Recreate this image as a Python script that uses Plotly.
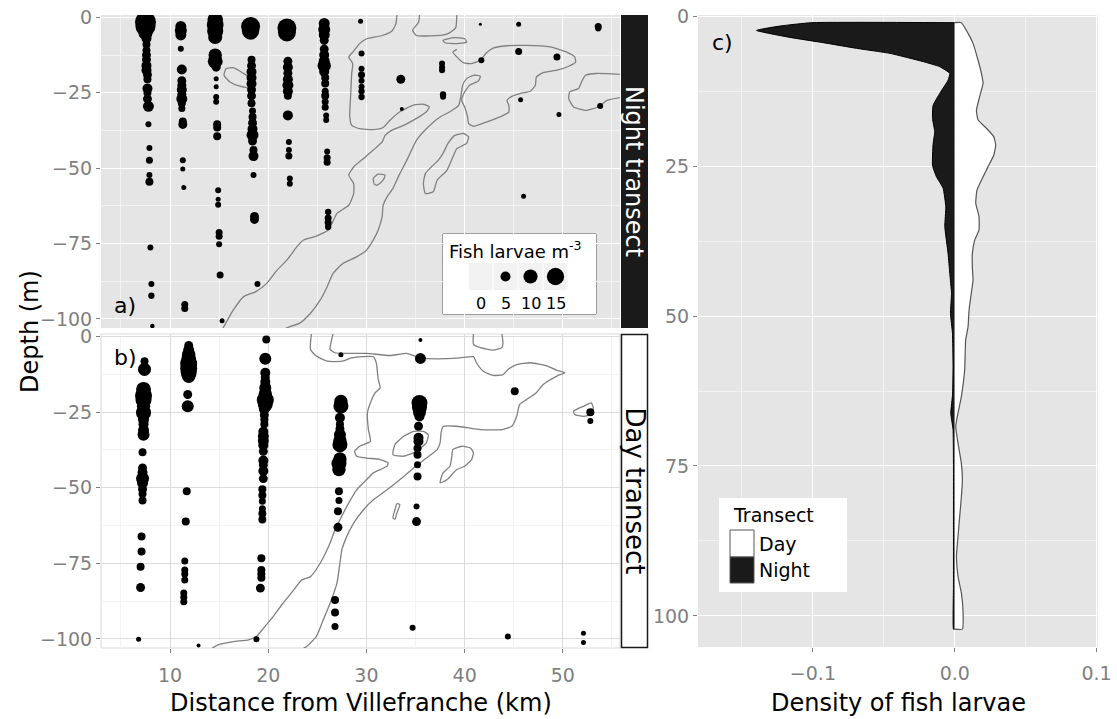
import plotly.graph_objects as go

FONT = "DejaVu Sans"
W, H = 1117, 719

# ---------------------------------------------------------------- data
# Night transect (panel a): distance (km), depth (m), fish larvae m^-3
night_km = [
    7.5, 7.5, 7.5, 7.6, 7.6, 7.6, 7.6, 7.6, 7.6, 7.6, 7.7, 7.7, 7.7, 7.7, 7.7, 7.8, 7.8, 7.9, 7.9, 7.9, 7.9, 8.0, 8.1, 8.1, 8.2,
    11.1, 11.1, 11.1, 11.1, 11.2, 11.2, 11.2, 11.2, 11.2, 11.2, 11.2, 11.2, 11.3, 11.3, 11.3, 11.3, 11.4, 11.5, 11.5,
    14.6, 14.6, 14.6, 14.6, 14.6, 14.6, 14.7, 14.7, 14.7, 14.7, 14.7, 14.8, 14.8, 14.8, 14.9, 14.9, 14.9, 15.0, 15.0, 15.0, 15.1, 15.3,
    18.2, 18.2, 18.3, 18.3, 18.3, 18.3, 18.3, 18.3, 18.3, 18.3, 18.4, 18.4, 18.4, 18.4, 18.4, 18.4, 18.5, 18.5, 18.5, 18.6, 18.6, 18.9,
    21.9, 21.9, 22.0, 22.0, 22.0, 22.0, 22.0, 22.0, 22.0, 22.0, 22.1, 22.1, 22.1, 22.2, 22.2,
    25.7, 25.7, 25.7, 25.7, 25.7, 25.7, 25.7, 25.7, 25.7, 25.8, 25.8, 25.8, 25.8, 25.8, 25.8, 25.9, 25.9, 26.0, 26.0, 26.0, 26.1, 26.1, 26.1, 26.1,
    29.4, 29.5, 29.5, 29.5, 29.5, 29.5, 29.5, 29.5,
    33.5, 33.6, 37.7, 37.7, 37.7, 37.8, 37.8, 41.6, 41.7, 45.5, 45.5, 45.7, 46.0, 49.4, 49.6, 53.6, 53.6, 53.8,
]
night_depth = [
    -1.5, -3.0, -5.2, -7.0, -9.0, -11.0, -12.5, -14.0, -16.0, -17.5, -19.0, -20.5, -23.6, -25.0, -27.0, -29.5, -35.4, -43.3, -47.4, -52.3, -54.5, -76.3, -88.4, -92.3, -102.3,
    -3.0, -4.3, -5.8, -10.4, -17.3, -21.0, -22.5, -24.0, -25.5, -27.0, -28.5, -30.2, -34.5, -35.5, -47.4, -50.3, -56.4, -95.2, -96.5,
    -0.8, -2.5, -4.5, -6.5, -12.5, -14.5, -16.5, -20.3, -23.0, -26.4, -28.0, -35.4, -36.5, -39.4, -57.3, -60.3, -62.1, -71.3, -72.6, -75.2, -85.4, -100.6,
    -3.0, -4.5, -14.0, -16.0, -18.0, -20.0, -22.0, -24.0, -26.0, -28.5, -31.0, -33.0, -35.0, -37.0, -39.0, -41.0, -44.0, -46.0, -52.3, -66.0, -67.0, -88.4,
    -3.5, -5.0, -14.5, -16.5, -18.5, -20.5, -22.5, -24.5, -26.0, -32.5, -41.3, -44.0, -46.0, -53.4, -55.2,
    -2.0, -4.0, -5.8, -7.6, -10.5, -12.5, -14.5, -16.0, -18.0, -20.0, -21.9, -24.5, -26.0, -28.0, -29.8, -32.5, -34.0, -44.5, -46.5, -48.0, -64.5, -66.5, -68.0, -69.5,
    -1.3, -12.0, -17.0, -19.0, -21.0, -23.0, -24.5, -26.4,
    -20.5, -30.4, -15.3, -16.5, -17.5, -25.5, -26.3, -2.3, -14.2, -2.3, -11.3, -27.3, -59.3, -13.1, -32.2, -3.0, -3.6, -29.4,
]
night_larvae = [
    22, 20, 9.8, 5, 3.2, 3.2, 4, 4, 5, 5, 4, 3.2, 5, 3.2, 4, 6, 1.8, 1.8, 2.45, 1.8, 3.2, 1.8, 1.8, 2, 1.0,
    6, 7.2, 6, 1.8, 5, 4, 4, 5, 4, 6, 3.2, 2.45, 3.2, 4, 1.8, 1.25, 1.25, 2.45, 2.45,
    12, 14, 13, 10, 9, 11, 4, 1.25, 1.25, 1.8, 1.8, 3.2, 3.2, 3.2, 1.8, 1.25, 1.8, 2.45, 2.45, 1.8, 2.45, 1.25,
    18, 15, 3.2, 4, 5, 5, 5, 4, 4, 3.2, 2.45, 3.2, 4, 5, 7.2, 4, 3.2, 5, 1.8, 4, 4, 1.8,
    18, 16, 4, 5, 4, 5, 6, 5, 3.2, 5, 1.8, 1.8, 2.45, 1.8, 1.8,
    6, 7.2, 6, 4, 4, 5, 6, 9, 5, 3.2, 3.2, 2.45, 3.2, 2.45, 2.45, 1.8, 1.8, 1.8, 2.45, 2.45, 2, 2.45, 2.45, 2,
    1.25, 1.8, 1.8, 2.45, 1.8, 1.8, 2, 2,
    4, 0.8, 1.8, 1.8, 1.8, 2, 1.8, 0.45, 1.8, 1.25, 2.45, 1.25, 1.25, 2.45, 1.25, 2.45, 2, 1.8,
]

# Day transect (panel b)
day_km = [
    7.4, 7.4, 7.3, 7.3, 7.3, 7.3, 7.3, 7.3, 7.3, 7.3, 7.3, 7.2, 7.2, 7.2, 7.2, 7.2, 7.2, 7.2, 7.2, 7.1, 7.1, 7.0, 7.0, 6.8,
    11.9, 11.9, 11.9, 11.9, 11.9, 11.9, 11.9, 11.9, 11.8, 11.8, 11.7, 11.6, 11.5, 11.5, 11.5, 11.5, 11.4, 11.4, 11.4, 12.9,
    19.8, 19.7, 19.7, 19.7, 19.7, 19.7, 19.7, 19.7, 19.7, 19.6, 19.6, 19.6, 19.6, 19.5, 19.5, 19.5, 19.5, 19.5, 19.5, 19.5,
    19.5, 19.5, 19.4, 19.4, 19.4, 19.4, 19.4, 19.4, 19.3, 19.3, 19.3, 19.3, 19.2, 18.8,
    27.4, 27.4, 27.4, 27.3, 27.3, 27.3, 27.3, 27.3, 27.3, 27.3, 27.2, 27.2, 27.2, 27.2, 27.1, 27.1, 26.8, 26.8, 26.8,
    35.5, 35.5, 35.4, 35.4, 35.4, 35.4, 35.3, 35.3, 35.3, 35.2, 35.2, 35.2, 35.2, 35.1, 35.1, 34.7,
    45.1, 52.8, 52.8, 44.4, 52.1, 52.1,
]
day_depth = [
    -8.2, -10.9, -17.5, -19.5, -21.0, -23.0, -25.2, -27.5, -29.0, -31.0, -32.5, -38.3, -43.5, -45.0, -47.0, -48.5, -50.5, -52.0, -54.2, -66.1, -71.1, -76.1, -83.0, -100.1,
    -3.0, -4.5, -6.0, -7.5, -9.0, -10.5, -12.0, -13.2, -19.2, -23.1, -51.2, -61.2, -74.2, -77.2, -78.5, -80.5, -84.8, -86.2, -87.7, -102.2,
    -1.0, -7.4, -12.0, -13.5, -15.0, -17.0, -19.0, -21.0, -22.5, -24.0, -26.0, -27.5, -29.0, -31.5, -33.0, -34.5, -36.0, -38.0, -41.0, -42.5,
    -44.5, -47.0, -50.5, -52.5, -54.5, -57.0, -58.5, -60.5, -73.3, -77.2, -78.5, -79.8, -83.2, -100.1,
    -6.1, -21.5, -23.0, -26.9, -29.0, -30.5, -32.5, -34.5, -35.8, -40.5, -42.0, -44.0, -51.2, -54.2, -57.8, -63.1, -87.1, -91.3, -95.9,
    -1.2, -7.3, -22.0, -23.5, -25.0, -26.5, -29.7, -33.5, -34.7, -37.0, -39.1, -42.4, -46.3, -56.2, -61.2, -96.3,
    -18.1, -25.1, -28.0, -99.2, -98.1, -101.2,
]
day_larvae = [
    3.2, 8.5, 11, 14.5, 12.8, 9, 11.3, 6, 5, 6, 7.2, 3.2, 4, 5, 8.5, 6, 4, 3.2, 3.2, 3.2, 3.2, 3.2, 4, 1.25,
    4, 6, 9, 11, 14.5, 14.5, 12.8, 9, 4, 7.2, 3.2, 3.2, 2.45, 2.45, 2.45, 2.45, 2.45, 2.45, 2.45, 0.8,
    3.2, 7.2, 5, 4, 5, 7.2, 9, 14.5, 11, 6, 4, 3.2, 3.2, 5, 6, 6, 5, 4, 5, 4,
    5, 4, 3.2, 3.2, 2.45, 2.45, 3.2, 3.2, 3.2, 3.2, 3.2, 3.2, 4, 1.8,
    1.25, 9, 11.3, 5, 3.2, 4, 7.2, 9, 11.3, 9, 11.3, 9, 3.2, 2.45, 3.2, 4, 3.2, 3.2, 2.45,
    0.8, 6, 12.8, 11.3, 8.5, 5, 4, 5, 5, 3.2, 3.2, 2.45, 3.2, 1.8, 4, 1.8,
    3.2, 3.2, 1.8, 1.8, 1.25, 1.25,
]

legend_larvae = [0, 5, 10, 15]

# Contour lines (km, depth) of the background field
night_contours = [
    [(17.5, -18.6), (16.5, -16.7), (15.7, -17.0), (15.5, -19.2), (16.1, -21.4), (17.1, -22.8), (18.2, -23.3), (18.5, -20.9), (17.5, -18.6)],
    [(15.4, -103), (16.45, -97.0), (17.5, -92.6), (18.7, -91.0), (19.85, -88.2), (20.9, -83.8), (21.9, -80.5), (22.9, -76.1),
     (23.6, -73.8), (24.9, -72.5), (26.1, -70.5), (26.5, -68.3), (27.0, -65.0), (28.2, -62.3), (28.7, -58.4), (28.7, -55.1),
     (28.2, -52.3), (28.7, -49.6), (29.7, -46.8), (30.7, -44.0), (31.6, -41.3), (31.9, -39.1), (32.6, -37.4), (33.8, -35.8),
     (35.1, -33.5), (36.1, -31.3), (36.4, -29.7), (35.8, -28.8), (34.8, -29.1), (33.4, -31.3), (32.4, -34.1), (31.7, -36.5),
     (30.7, -37.2), (29.3, -36.9), (28.5, -35.8), (28.3, -33.0), (28.4, -25.3), (28.5, -18.6), (28.6, -15.3), (28.2, -13.1),
     (28.7, -11.2), (29.3, -8.7), (30.0, -7.1), (31.6, -6.0), (32.6, -4.5), (33.0, -2.1), (33.1, 0.8)],
    [(21.8, -103), (23.2, -101.4), (24.3, -98.1), (25.3, -93.7), (26.0, -89.3), (26.6, -84.9), (27.6, -81.6), (29.0, -79.4),
     (30.0, -77.2), (30.7, -73.8), (31.2, -70.5), (31.6, -66.1), (31.7, -62.3), (32.1, -59.5), (32.7, -56.7), (33.4, -51.8),
     (34.1, -47.4), (34.6, -44.0), (35.1, -40.7), (36.1, -36.9), (37.5, -33.0), (38.5, -31.3), (39.4, -29.1), (39.6, -26.4),
     (39.8, -22.5), (40.2, -20.3), (40.9, -19.2), (41.6, -19.5), (41.4, -21.1), (40.5, -22.5), (39.9, -25.3), (39.7, -27.5),
     (40.0, -29.7), (40.3, -33.0), (40.4, -35.2), (40.9, -36.1), (42.2, -34.7), (43.6, -33.0), (44.5, -31.4), (44.5, -29.1),
     (44.3, -27.5), (44.8, -26.2), (45.8, -25.1), (46.7, -24.5), (47.2, -22.5), (47.3, -19.8), (48.0, -18.3), (49.4, -17.5),
     (50.6, -16.2), (51.3, -14.8), (51.2, -13.1), (50.4, -11.5), (48.7, -9.8), (46.3, -9.3), (44.3, -9.4), (42.9, -10.2),
     (42.2, -11.8), (41.6, -14.2), (40.7, -15.3), (39.9, -15.1), (39.2, -13.1), (38.8, -11.5), (39.2, -10.6)],
    [(35.8, -55.1), (36.0, -58.4), (36.8, -57.8), (37.2, -54.0), (38.2, -50.7), (38.8, -46.3), (39.2, -43.5), (40.2, -41.8),
     (40.4, -39.6), (39.9, -38.5), (39.0, -39.1), (38.3, -41.8), (37.8, -45.1), (37.3, -47.4), (36.6, -49.6), (36.0, -51.8), (35.8, -55.1)],
    [(30.7, -53.3), (31.2, -52.0), (31.9, -52.3), (31.7, -54.0), (31.1, -55.6), (30.8, -55.3), (30.7, -53.3)],
    [(35.4, 0.8), (35.3, -1.7), (34.7, -4.3), (35.1, -6.0), (36.5, -6.1), (38.1, -5.6), (38.7, -4.6), (39.1, -3.3), (39.2, 0.8)],
    [(37.8, -7.6), (38.9, -6.7), (40.0, -7.1), (40.2, -8.2), (39.2, -8.7), (38.0, -8.4), (37.8, -7.6)],
    [(55.8, -18.9), (53.4, -18.6), (52.3, -19.2), (51.9, -21.4), (51.6, -23.6), (50.7, -24.7), (50.6, -26.9), (51.1, -29.7),
     (52.4, -30.8), (53.6, -29.7), (54.5, -27.5), (55.8, -26.6)],
]
day_contours = [
    [(24.4, 0.8), (24.3, -4.3), (24.9, -6.5), (26.0, -8.2), (27.5, -8.2), (28.5, -7.1), (30.7, -6.7), (31.0, -8.7),
     (31.2, -14.2), (31.4, -17.0), (30.9, -18.6), (30.4, -22.0), (30.1, -25.3), (30.2, -30.8), (30.4, -34.7), (29.3, -36.3),
     (28.8, -38.0), (29.0, -39.6), (30.0, -40.2), (31.4, -40.7), (32.2, -41.8), (32.1, -42.9), (30.7, -45.1), (30.0, -47.4),
     (29.0, -50.7), (28.0, -56.2), (27.3, -60.6), (26.8, -63.9), (26.3, -68.3), (25.3, -74.9), (24.3, -79.4), (23.4, -80.5),
     (22.6, -83.8), (21.5, -88.2), (20.5, -92.6), (19.5, -96.5), (18.8, -99.2), (18.0, -100.3), (16.4, -100.9), (14.9, -102.0), (14.3, -103)],
    [(26.6, 0.8), (26.3, -4.3), (26.8, -5.4), (27.6, -5.6), (30.0, -5.6), (32.4, -6.3), (34.1, -5.6), (35.5, -7.1),
     (37.2, -7.4), (39.5, -7.1), (40.9, -6.7), (41.2, -8.7), (41.9, -11.5), (42.9, -12.9), (43.9, -12.6), (44.5, -10.7),
     (45.3, -9.3), (46.7, -8.7), (48.4, -9.8), (49.4, -11.2), (50.2, -12.0), (49.4, -13.1), (48.0, -15.9), (47.3, -18.6),
     (46.3, -20.9), (45.6, -22.5), (45.3, -26.4), (44.8, -29.7), (43.8, -30.8), (41.6, -30.8), (39.2, -29.7), (37.8, -29.8),
     (37.6, -31.9), (37.5, -35.2), (37.2, -37.4), (36.1, -40.2), (34.8, -43.5), (33.8, -46.3), (32.1, -50.7), (30.7, -54.0),
     (29.7, -57.3), (28.7, -61.7), (28.0, -66.1), (27.5, -70.5), (27.3, -74.9), (27.0, -81.5), (26.3, -88.2), (25.6, -93.7),
     (24.9, -99.2), (23.9, -102.5), (23.6, -103)],
    [(32.9, -35.8), (32.7, -39.1), (33.8, -39.6), (35.1, -38.0), (36.1, -35.2), (36.3, -32.5), (35.8, -31.4), (34.8, -31.4),
     (33.8, -33.0), (32.9, -35.8)],
    [(37.5, -48.4), (38.2, -47.4), (39.2, -44.0), (40.0, -42.9), (40.7, -40.7), (40.9, -38.5), (40.6, -36.9), (39.7, -36.3),
     (38.8, -37.4), (38.7, -39.6), (38.5, -42.9), (37.8, -45.1), (37.5, -48.4)],
    [(32.7, -60.0), (32.9, -57.3), (33.1, -55.3), (33.4, -55.6), (33.1, -58.4), (32.9, -60.4), (32.7, -60.0)],
    [(40.9, 0.8), (40.9, -2.6), (41.6, -3.7), (42.9, -4.5), (43.8, -3.7), (43.9, -2.1), (43.8, 0.8)],
    [(51.1, -24.7), (52.1, -23.1), (52.9, -22.0), (53.1, -23.6), (52.9, -25.8), (52.1, -26.4), (51.2, -25.8), (51.1, -24.7)],
]

# Panel c: kernel density of larvae with depth (Night drawn negative)
night_density_depth = [1.11, 1.67, 2.4, 3.56, 4.44, 5.39, 6.22, 7.6, 8.44, 9.56, 10.7, 12.9, 14.9, 17.1, 19.3, 21.4, 24.9,
                       26.8, 28.7, 31.8, 35.1, 39.6, 42.9, 46.2, 49.6, 52.9, 58.0, 63.0, 66.2, 68.9, 75.0, 85.0, 95.0, 102.2]
night_density = [-0.1009, -0.1232, -0.1397, -0.1162, -0.0927, -0.0692, -0.0458, -0.0223, -0.0106, -0.0035, -0.0047, -0.0106,
                 -0.0153, -0.0157, -0.0141, -0.0153, -0.0157, -0.0129, -0.0082, -0.0063, -0.0070, -0.0047, -0.0035, -0.0023,
                 -0.0030, -0.0016, -0.0012, -0.0015, -0.0028, -0.0012, -0.0009, -0.0009, -0.0009, -0.0009]
day_density_depth = [1.11, 2.89, 4.56, 7.33, 9.56, 11.2, 13.4, 15.7, 17.3, 18.7, 20.1, 21.5, 23.2, 25.1, 26.8, 29.0, 31.2,
                     33.4, 35.7, 37.3, 39.6, 41.8, 44.0, 46.2, 49.0, 51.8, 54.0, 59.0, 63.4, 66.2, 68.4, 71.2, 74.6, 77.3,
                     80.1, 83.4, 86.8, 90.1, 93.4, 96.2, 99.6, 102.2]
day_density = [0.0047, 0.0094, 0.0129, 0.0164, 0.0188, 0.0200, 0.0176, 0.0153, 0.0164, 0.0223, 0.0275, 0.0289, 0.0275,
               0.0235, 0.0200, 0.0157, 0.0148, 0.0171, 0.0171, 0.0141, 0.0124, 0.0124, 0.0129, 0.0117, 0.0101, 0.0094,
               0.0077, 0.0070, 0.0047, 0.0023, 0.0007, 0.0023, 0.0047, 0.0054, 0.0047, 0.0035, 0.0023, 0.0012, 0.0023,
               0.0047, 0.0059, 0.0054]

# ---------------------------------------------------------------- helpers
def fx(p):
    return p / W


def fy(p):
    return 1 - p / H


SIZEREF = 0.1
GREY_TXT = "#7f7f7f"
tickfont = dict(family=FONT, size=19, color=GREY_TXT)

fig = go.Figure()

# contours
for lines, xa, ya in ((night_contours, "x", "y"), (day_contours, "x2", "y2")):
    for line in lines:
        fig.add_trace(go.Scatter(
            x=[p[0] for p in line], y=[p[1] for p in line], mode="lines",
            line=dict(color="#808080", width=1.3, shape="spline", smoothing=0.5),
            xaxis=xa, yaxis=ya, hoverinfo="skip", showlegend=False))

# larvae points
for xs, ys, vs, xa, ya in ((night_km, night_depth, night_larvae, "x", "y"),
                           (day_km, day_depth, day_larvae, "x2", "y2")):
    fig.add_trace(go.Scatter(
        x=xs, y=ys, mode="markers",
        marker=dict(size=vs, sizemode="area", sizeref=SIZEREF, color="black", opacity=1,
                    line=dict(width=0)),
        xaxis=xa, yaxis=ya, showlegend=False))

# density polygons
fig.add_trace(go.Scatter(
    x=[0] + night_density + [0],
    y=[night_density_depth[0]] + night_density_depth + [night_density_depth[-1]],
    mode="lines", fill="toself", fillcolor="#1a1a1a",
    line=dict(color="#000000", width=1, shape="spline", smoothing=0.4),
    xaxis="x3", yaxis="y3", showlegend=False))
fig.add_trace(go.Scatter(
    x=[0] + day_density + [0],
    y=[day_density_depth[0]] + day_density_depth + [day_density_depth[-1]],
    mode="lines", fill="toself", fillcolor="white",
    line=dict(color="#555555", width=1.2, shape="spline", smoothing=0.4),
    xaxis="x3", yaxis="y3", showlegend=False))

# size legend keys (helper axis spanning the legend box)
fig.add_trace(go.Scatter(
    x=[1, 2, 3, 4], y=[37.5] * 4, mode="markers",
    marker=dict(size=legend_larvae, sizemode="area", sizeref=SIZEREF, color="black", opacity=1,
                line=dict(width=0)),
    xaxis="x4", yaxis="y4", showlegend=False, hoverinfo="skip"))

left_dom = [fx(101), fx(620)]
xr = [2.97, 55.82]
yr = [-103, 0.8]

common_x = dict(range=xr, domain=left_dom, dtick=10, tick0=0, zeroline=False, showline=False,
                automargin=False, ticklabeloverflow="allow")
common_y = dict(range=yr, dtick=25, tick0=0, zeroline=False, showline=False, ticks="outside",
                ticklen=4, tickcolor=GREY_TXT, tickfont=tickfont, automargin=False,
                ticklabeloverflow="allow")

fig.update_layout(
    width=W, height=H, margin=dict(l=0, r=0, t=0, b=0, autoexpand=False),
    paper_bgcolor="white", plot_bgcolor="white",
    font=dict(family=FONT, color="black"),
    xaxis=dict(**common_x, anchor="y", showticklabels=False, ticks="",
               showgrid=True, gridcolor="white", gridwidth=1.4,
               minor=dict(dtick=5, tick0=0, showgrid=True, gridcolor="#f2f2f2", gridwidth=0.8)),
    yaxis=dict(**common_y, domain=[fy(328), fy(15)], anchor="x",
               showgrid=True, gridcolor="white", gridwidth=1.4,
               minor=dict(dtick=12.5, tick0=0, showgrid=True, gridcolor="#f2f2f2", gridwidth=0.8)),
    xaxis2=dict(**common_x, anchor="y2", ticks="outside", ticklen=4, tickcolor=GREY_TXT, tickfont=tickfont,
                ticklabelstandoff=6,
                showgrid=True, gridcolor="#dcdcdc", gridwidth=1.2,
                minor=dict(dtick=5, tick0=0, showgrid=True, gridcolor="#f3f3f3", gridwidth=0.8)),
    yaxis2=dict(**common_y, domain=[fy(648), fy(334)], anchor="x2",
                showgrid=True, gridcolor="#dcdcdc", gridwidth=1.2,
                minor=dict(dtick=12.5, tick0=0, showgrid=True, gridcolor="#f3f3f3", gridwidth=0.8)),
    xaxis3=dict(domain=[fx(698), fx(1098)], anchor="y3", range=[-0.181, 0.101], dtick=0.1, tick0=0,
                tickformat=".1f", ticks="outside", ticklen=4, tickcolor=GREY_TXT, tickfont=tickfont,
                ticklabelstandoff=5, ticklabeloverflow="allow",
                zeroline=False, showline=False, showgrid=True, gridcolor="white", gridwidth=1.4, automargin=False,
                minor=dict(dtick=0.05, tick0=0, showgrid=True, gridcolor="#f2f2f2", gridwidth=0.8)),
    yaxis3=dict(domain=[fy(647), fy(15)], anchor="x3", range=[105.17, -0.17], dtick=25, tick0=0,
                ticks="outside", ticklen=4, tickcolor=GREY_TXT, tickfont=tickfont, automargin=False,
                ticklabeloverflow="allow",
                zeroline=False, showline=False, showgrid=True, gridcolor="white", gridwidth=1.4,
                minor=dict(dtick=12.5, tick0=0, showgrid=True, gridcolor="#f2f2f2", gridwidth=0.8)),
    xaxis4=dict(domain=[fx(443), fx(596)], anchor="y4", range=[-0.5, 5.62], visible=False,
                fixedrange=True, automargin=False),
    yaxis4=dict(domain=[fy(314), fy(234)], anchor="x4", range=[0, 80], visible=False,
                fixedrange=True, automargin=False),
)

shapes = [
    # grey panel backgrounds
    dict(type="rect", xref="x domain", yref="y domain", x0=0, x1=1, y0=0, y1=1,
         fillcolor="#e5e5e5", line=dict(width=0), layer="below"),
    dict(type="rect", xref="x3 domain", yref="y3 domain", x0=0, x1=1, y0=0, y1=1,
         fillcolor="#e5e5e5", line=dict(width=0), layer="below"),
    dict(type="rect", xref="x2 domain", yref="y2 domain", x0=0, x1=1, y0=0, y1=1,
         fillcolor="rgba(0,0,0,0)", line=dict(width=1, color="#d9d9d9"), layer="below"),
    # strips
    dict(type="rect", xref="paper", yref="paper", x0=fx(621), x1=fx(648), y0=fy(328), y1=fy(15),
         fillcolor="#1a1a1a", line=dict(width=0)),
    dict(type="rect", xref="paper", yref="paper", x0=fx(621.5), x1=fx(647.5), y0=fy(647.5), y1=fy(334.5),
         fillcolor="white", line=dict(width=1.5, color="#1a1a1a")),
    # size legend box (drawn in the helper subplot so it sits above panel a)
    dict(type="rect", xref="x4 domain", yref="y4 domain", x0=0, x1=1, y0=0, y1=1,
         fillcolor="white", line=dict(width=1, color="#555555"), layer="below"),
    # transect legend
    dict(type="rect", xref="paper", yref="paper", x0=fx(719), x1=fx(847), y0=fy(592), y1=fy(498),
         fillcolor="white", line=dict(width=0)),
    dict(type="rect", xref="paper", yref="paper", x0=fx(730), x1=fx(754), y0=fy(557), y1=fy(530),
         fillcolor="white", line=dict(width=1, color="#555555")),
    dict(type="rect", xref="paper", yref="paper", x0=fx(730), x1=fx(754), y0=fy(583), y1=fy(557),
         fillcolor="#1a1a1a", line=dict(width=1, color="#555555")),
]
for i in range(len(legend_larvae)):
    shapes.append(dict(type="rect", xref="x4", yref="y4", x0=i + 0.52, x1=i + 1.48, y0=24, y1=51,
                       fillcolor="#f2f2f2", line=dict(width=0), layer="below"))
fig.update_layout(shapes=shapes)

ann = [
    dict(text="Depth (m)", x=fx(30), y=fy(332), textangle=-90, font=dict(size=24)),
    dict(text="Distance from Villefranche (km)", x=fx(360.5), y=fy(703), font=dict(size=24)),
    dict(text="Density of fish larvae", x=fx(898), y=fy(703), font=dict(size=24)),
    dict(text="a)", x=fx(125), y=fy(306), font=dict(size=22)),
    dict(text="b)", x=fx(125), y=fy(357), font=dict(size=22)),
    dict(text="c)", x=fx(722), y=fy(43), font=dict(size=22)),
    dict(text="Night transect", x=fx(634.5), y=fy(171.5), textangle=90, font=dict(size=24, color="white")),
    dict(text="Day transect", x=fx(634.5), y=fy(491), textangle=90, font=dict(size=26, color="black")),
    dict(text="Fish larvae m<sup>-3</sup>", x=fx(447), y=fy(250), xanchor="left", font=dict(size=18)),
    dict(text="Transect", x=fx(731), y=fy(515), xanchor="left", font=dict(size=19)),
    dict(text="Day", x=fx(757), y=fy(543.5), xanchor="left", font=dict(size=19)),
    dict(text="Night", x=fx(757), y=fy(570), xanchor="left", font=dict(size=19)),
]
for i, v in enumerate(legend_larvae):
    ann.append(dict(text=str(v), x=i + 1, y=11, xref="x4", yref="y4", font=dict(size=16)))
for a in ann:
    a.setdefault("xref", "paper")
    a.setdefault("yref", "paper")
    a.setdefault("showarrow", False)
    a.setdefault("xanchor", "center")
    a.setdefault("yanchor", "middle")
    a["font"].setdefault("family", FONT)
    a["font"].setdefault("color", "black")
fig.update_layout(annotations=ann)

# the page's default 8 px body margin would shift the figure; remove it
fig.write_html("out.html", config={"displayModeBar": False},
               post_script="document.body.style.margin='0px';")
